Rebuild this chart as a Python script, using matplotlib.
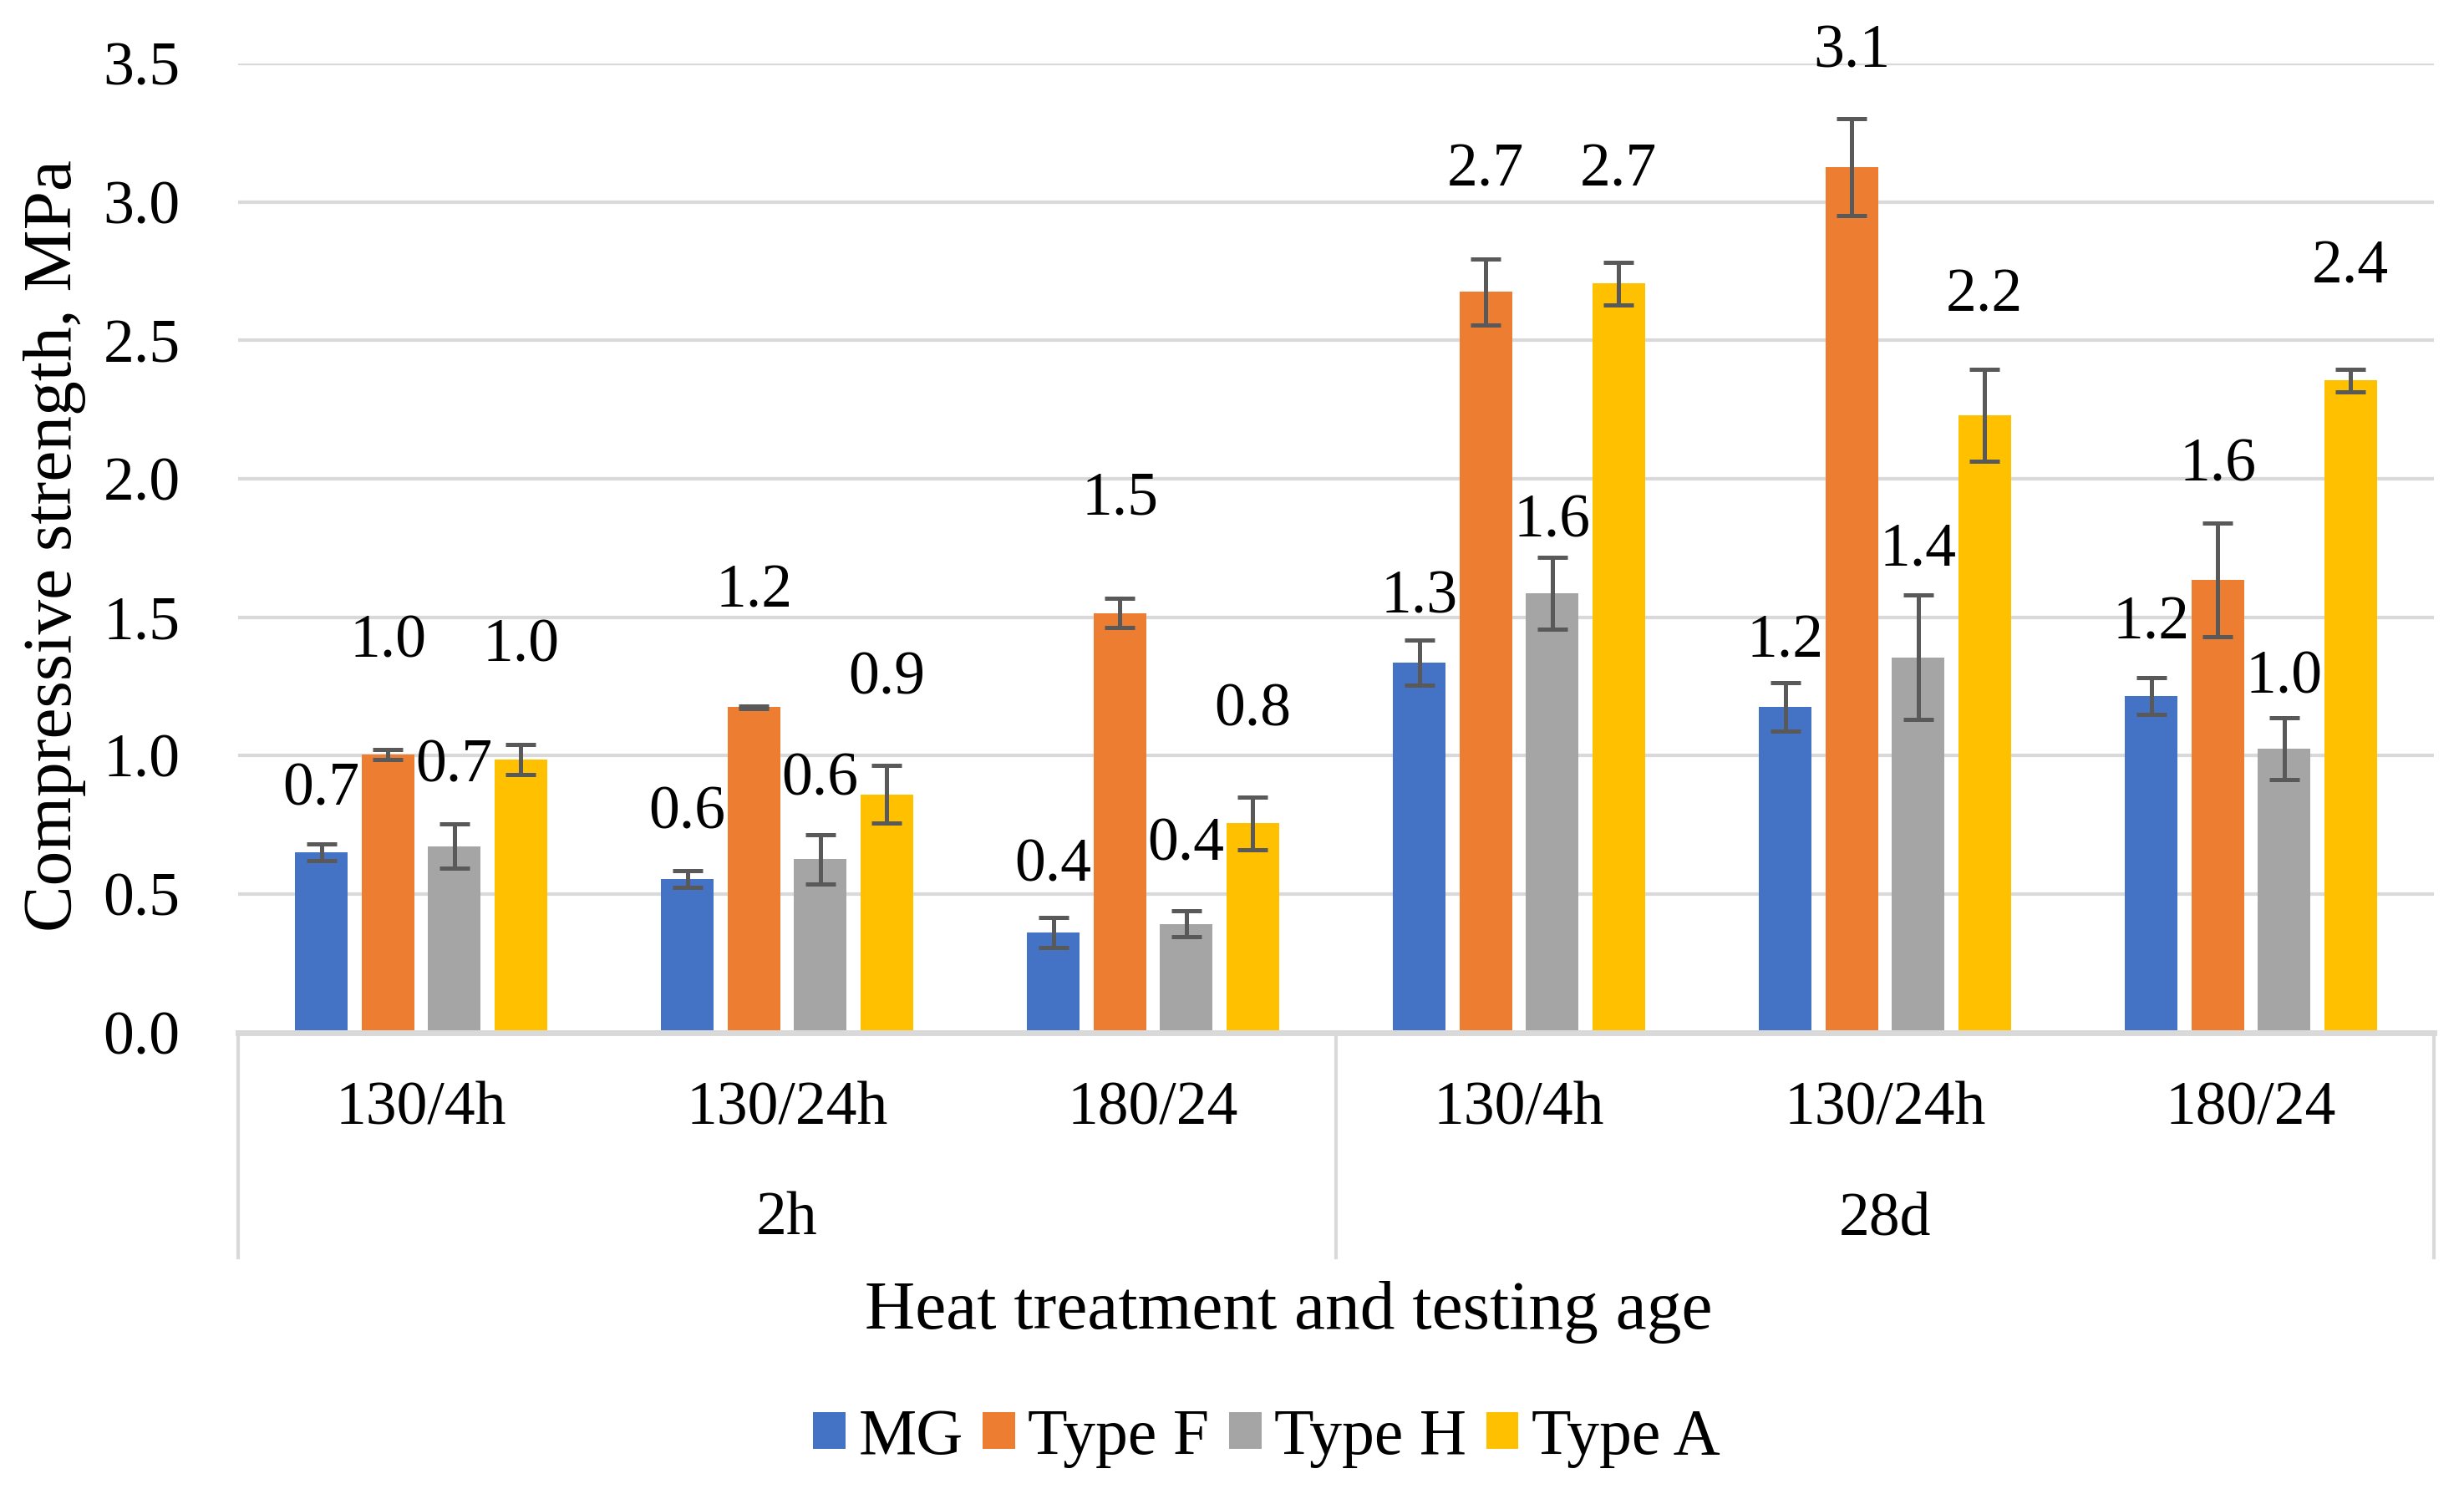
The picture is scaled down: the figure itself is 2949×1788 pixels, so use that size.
import numpy as np
import matplotlib
matplotlib.use("Agg")
import matplotlib.pyplot as plt
from matplotlib.patches import Patch

plt.rcParams['font.family'] = ['Liberation Serif', 'DejaVu Serif']

# data
sub_labels = ['130/4h', '130/24h', '180/24', '130/4h', '130/24h', '180/24']
group_labels = ['2h', '28d']
series = ['MG', 'Type F', 'Type H', 'Type A']
colors = ['#4472C4', '#ED7D31', '#A5A5A5', '#FFC000']

mg = [0.65, 0.553, 0.36, 1.335, 1.175, 1.215]
type_f = [1.005, 1.175, 1.515, 2.675, 3.125, 1.635]
type_h = [0.673, 0.625, 0.392, 1.585, 1.355, 1.025]
type_a = [0.985, 0.86, 0.755, 2.705, 2.228, 2.355]

mg_err = [0.03, 0.03, 0.054, 0.081, 0.088, 0.065]
type_f_err = [0.018, 0.005, 0.054, 0.12, 0.175, 0.206]
type_h_err = [0.08, 0.09, 0.046, 0.13, 0.226, 0.112]
type_a_err = [0.055, 0.105, 0.095, 0.076, 0.166, 0.04]

values = [mg, type_f, type_h, type_a]
errors = [mg_err, type_f_err, type_h_err, type_a_err]

# data label heights (labels were moved by hand in the original)
label_y = [
    [0.875, 0.79, 0.60, 1.57, 1.41, 1.475],
    [1.41, 1.59, 1.925, 3.11, 3.54, 2.045],
    [0.96, 0.91, 0.675, 1.845, 1.74, 1.28],
    [1.395, 1.275, 1.16, 3.11, 2.66, 2.76],
]

fig = plt.figure(figsize=(29.49, 17.88), dpi=100)
ax = fig.add_axes([0.0966, 0.309, 0.8912, 0.6485])

x = np.arange(len(sub_labels))
pitch = 0.1815
width = 0.144
fs = 53

for i, (name, vals, errs, col) in enumerate(zip(series, values, errors, colors)):
    pos = x + (i - 1.5) * pitch
    ax.bar(pos, vals, width, color=col, zorder=2)
    ax.errorbar(pos, vals, yerr=errs, fmt='none', ecolor='#595959',
                elinewidth=3.6, capsize=13.3, capthick=3.6, zorder=3)
    for px, v, ly in zip(pos, vals, label_y[i]):
        ax.text(px, ly, f"{v:.1f}", ha='center', va='center', fontsize=fs,
                clip_on=False)

ax.set_xlim(-0.5, 5.5)
ax.set_ylim(0, 3.5)
ax.set_yticks(np.arange(0, 3.51, 0.5))
ax.set_yticklabels([f"{t:.1f}" for t in np.arange(0, 3.51, 0.5)])
ax.yaxis.grid(True, color='#D9D9D9', linewidth=3, zorder=0)
ax.set_axisbelow(True)
ax.tick_params(axis='y', length=0, pad=50, labelsize=fs)
ax.set_xticks([])
for s in ['top', 'right', 'left']:
    ax.spines[s].set_visible(False)
ax.spines['bottom'].set_color('#D9D9D9')
ax.spines['bottom'].set_linewidth(5)

# multi-level category axis
tr = ax.get_xaxis_transform()
for xi, lab in zip(x, sub_labels):
    ax.text(xi, -0.0796, lab, transform=tr, ha='center', va='center',
            fontsize=fs, clip_on=False)
for gi, lab in enumerate(group_labels):
    ax.text(gi * 3 + 1, -0.193, lab, transform=tr, ha='center', va='center',
            fontsize=fs, clip_on=False)
for xv in [-0.5, 2.5, 5.5]:
    ax.plot([xv, xv], [0, -0.232], transform=tr, color='#D9D9D9',
            linewidth=3, clip_on=False)

fig.text(0.022, 0.635, 'Compressive strength, MPa', rotation=90,
         ha='center', va='center', fontsize=60)
fig.text(0.523, 0.1216, 'Heat treatment and testing age', ha='center',
         va='center', fontsize=60)

handles = [Patch(facecolor=c, label=s) for s, c in zip(series, colors)]
fig.legend(handles=handles, loc='center', bbox_to_anchor=(0.514, 0.0375),
           ncol=4, frameon=False, fontsize=56, handlelength=0.5,
           handleheight=0.5, handletextpad=0.2, columnspacing=0.3)

fig.savefig('out.png', dpi=100)
